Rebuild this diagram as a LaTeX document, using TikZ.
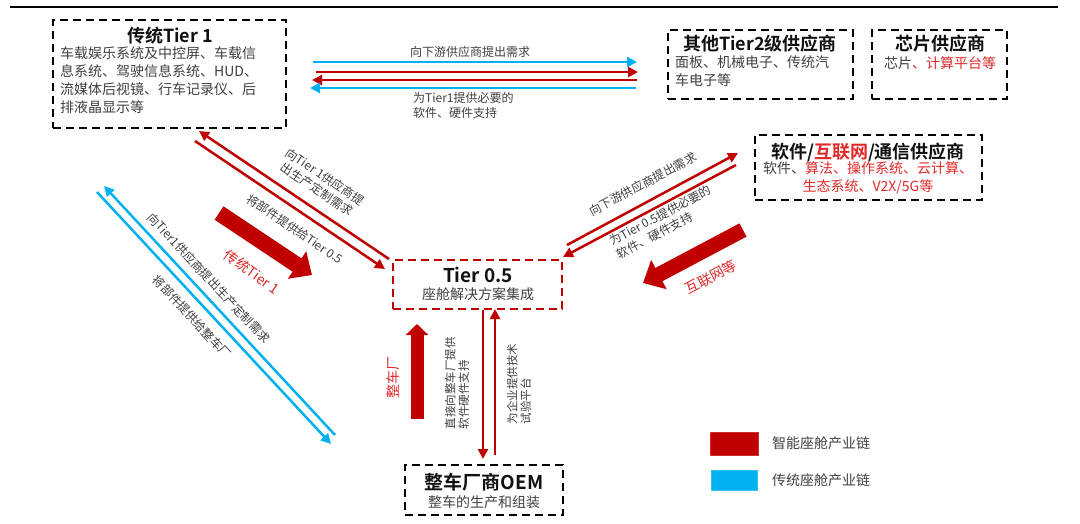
\documentclass[tikz,border=0pt]{standalone}
\usepackage{fontspec}
\setmainfont{Noto Sans CJK SC}[BoldFont={Noto Sans CJK SC Bold}]
\usetikzlibrary{arrows.meta}
\definecolor{dred}{HTML}{C00000}
\definecolor{sblue}{HTML}{00B0F0}
\definecolor{tred}{HTML}{E02828}
\definecolor{tgray}{HTML}{404040}
\definecolor{tblack}{HTML}{111111}
\begin{document}
\begin{tikzpicture}[x=1pt,y=-1pt,
  dbox/.style={draw=black, line width=2pt, dash pattern=on 8pt off 5pt, inner sep=0pt, outer sep=0pt},
  rbox/.style={draw=dred, line width=2pt, dash pattern=on 8pt off 5pt, inner sep=0pt, outer sep=0pt},
  ttl/.style={font=\fontsize{18}{20}\selectfont\bfseries, text=tblack, inner sep=0pt},
  body/.style={font=\fontsize{14}{18}\selectfont, text=tgray, inner sep=0pt},
  lab/.style={font=\fontsize{12}{15}\selectfont, text=tgray, inner sep=0pt},
  vlab/.style={font=\fontsize{11.5}{13.5}\selectfont, text=tgray, inner sep=0pt},
  blab/.style={font=\fontsize{14}{16}\selectfont, text=tred, inner sep=0pt},
  rl/.style={draw=dred, line width=2.5pt, -{Triangle[length=10pt,width=10pt]}},
  bl/.style={draw=sblue, line width=2.5pt, -{Triangle[length=10pt,width=10pt]}},
]
\fill[white] (0,0) rectangle (1080,523);
\useasboundingbox (0,0) rectangle (1080,523);

% top rule
\coordinate (topL) at (10,7);
\coordinate (topR) at (1058,7);
\draw[line width=2.2pt, black] (topL) -- (topR);

% boxes
\node[dbox, minimum width=233pt, minimum height=108pt] (t1) at (169.5,74) {};
\node[dbox, minimum width=185pt, minimum height=69pt] (t2) at (760.5,64.5) {};
\node[dbox, minimum width=135pt, minimum height=69pt] (chip) at (939.5,64.5) {};
\node[dbox, minimum width=227pt, minimum height=65pt] (sw) at (868.5,167.5) {};
\node[rbox, minimum width=169pt, minimum height=49pt] (t05) at (477.5,284.5) {};
\node[dbox, minimum width=158pt, minimum height=50pt] (oem) at (484,490) {};

% box texts
\node[ttl] (t1title) at (170,36) {传统Tier 1};
\node[body, anchor=north west, align=left] (t1body) at (60,46) {车载娱乐系统及中控屏、车载信\\息系统、驾驶信息系统、HUD、\\流媒体后视镜、行车记录仪、后\\排液晶显示等};

\node[ttl] (t2title) at (760,44) {其他Tier2级供应商};
\node[body, anchor=north west, align=left] (t2body) at (675,55) {面板、机械电子、传统汽\\车电子等};

\node[ttl] (chiptitle) at (940,44) {芯片供应商};
\node[body] (chipbody) at (940,63) {芯片\textcolor{tred}{、计算平台等}};

\node[ttl] (swtitle) at (868,152) {软件/\textcolor{tred}{互联网}/通信供应商};
\node[body, align=center] (swbody) at (868,178) {软件、\textcolor{tred}{算法、操作系统、云计算、}\\\textcolor{tred}{生态系统、V2X/5G等}};

\node[ttl, font=\fontsize{19}{21}\selectfont\bfseries] (t05title) at (478,275) {Tier 0.5};
\node[body] (t05body) at (478,294) {座舱解决方案集成};

\node[ttl, font=\fontsize{19}{21}\selectfont\bfseries] (oemtitle) at (484,482) {整车厂商OEM};
\node[body] (oembody) at (484,502) {整车的生产和组装};

% horizontal arrows between Tier1 and Tier2
\coordinate (h1s) at (313,62); \coordinate (h1e) at (637,62);
\coordinate (h2s) at (316,72); \coordinate (h2e) at (638,72);
\coordinate (h3s) at (637,80); \coordinate (h3e) at (312,80);
\coordinate (h4s) at (636,88); \coordinate (h4e) at (310,88);
\draw[bl] (h1s) -- (h1e);
\draw[rl] (h2s) -- (h2e);
\draw[rl] (h3s) -- (h3e);
\draw[bl] (h4s) -- (h4e);
\node[lab] (hlab1) at (470,52) {向下游供应商提出需求};
\node[lab, anchor=north west, align=left] (hlab2) at (413,92) {为Tier1提供必要的\\软件、硬件支持};

% software <-> Tier 0.5
\coordinate (s1s) at (567,245); \coordinate (s1e) at (738,153);
\coordinate (s2s) at (736,165); \coordinate (s2e) at (563,257);
\draw[rl] (s1s) -- (s1e);
\draw[rl] (s2s) -- (s2e);
\node[lab, rotate=28] (slab1) at (643,184) {向下游供应商提出需求};
\node[lab, rotate=28, align=left] (slab2) at (664,222) {为Tier 0.5提供必要的\\软件、硬件支持};
\coordinate (bigSs) at (743,230); \coordinate (bigSe) at (643,283);
\draw[draw=dred, line width=15pt, -{Triangle[length=18pt,width=32pt]}] (bigSs) -- (bigSe);
\node[blab, rotate=28] (biglabS) at (711,277) {互联网等};

% Tier1 <-> Tier 0.5
\coordinate (l1s) at (389,259); \coordinate (l1e) at (199,131);
\coordinate (l2s) at (195,141); \coordinate (l2e) at (385,269);
\draw[rl] (l1s) -- (l1e);
\draw[rl] (l2s) -- (l2e);
\node[lab, rotate=-34, align=center] (llab1) at (321,183) {向Tier 1供应商提\\出生产定制需求};
\node[lab, rotate=-34] (llab2) at (295,229) {将部件提供给Tier 0.5};
\coordinate (bigLs) at (219,213); \coordinate (bigLe) at (312,275);
\draw[draw=dred, line width=16pt, -{Triangle[length=18pt,width=32pt]}] (bigLs) -- (bigLe);
\node[blab, rotate=-36] (biglabL) at (252,272) {传统Tier 1};

% blue Tier1 <-> OEM
\coordinate (b1s) at (97,192); \coordinate (b1e) at (331,444);
\coordinate (b2s) at (335,435); \coordinate (b2e) at (104,186);
\draw[bl] (b1s) -- (b1e);
\draw[bl] (b2s) -- (b2e);
\node[lab, rotate=-47] (blab1) at (209,278) {向Tier1供应商提出生产定制需求};
\node[lab, rotate=-47] (blab2) at (192,317) {将部件提供给整车厂};

% Tier 0.5 <-> OEM
\coordinate (v1s) at (483,310); \coordinate (v1e) at (483,459);
\coordinate (v2s) at (495,455); \coordinate (v2e) at (495,309);
\draw[rl] (v1s) -- (v1e);
\draw[rl] (v2s) -- (v2e);
\node[vlab, rotate=90, align=left] (vlab1) at (457,383) {直接向整车厂提供\\软件硬件支持};
\node[vlab, rotate=90, align=left] (vlab2) at (519,384) {为企业提供技术\\试验平台};
\coordinate (bigVs) at (417,419); \coordinate (bigVe) at (417,324);
\draw[draw=dred, line width=13pt, -{Triangle[length=11pt,width=22pt]}] (bigVs) -- (bigVe);
\node[blab, rotate=90] (biglabV) at (393,377) {整车厂};

% legend
\node[fill=dred, draw=dred!80, minimum width=48pt, minimum height=23pt, inner sep=0pt] (legR) at (734,443.5) {};
\node[fill=sblue, draw=sblue!80, minimum width=46pt, minimum height=20pt, inner sep=0pt] (legB) at (734,480) {};
\node[body, anchor=west] (legRl) at (772,443) {智能座舱产业链};
\node[body, anchor=west] (legBl) at (772,480) {传统座舱产业链};
\end{tikzpicture}
\end{document}
